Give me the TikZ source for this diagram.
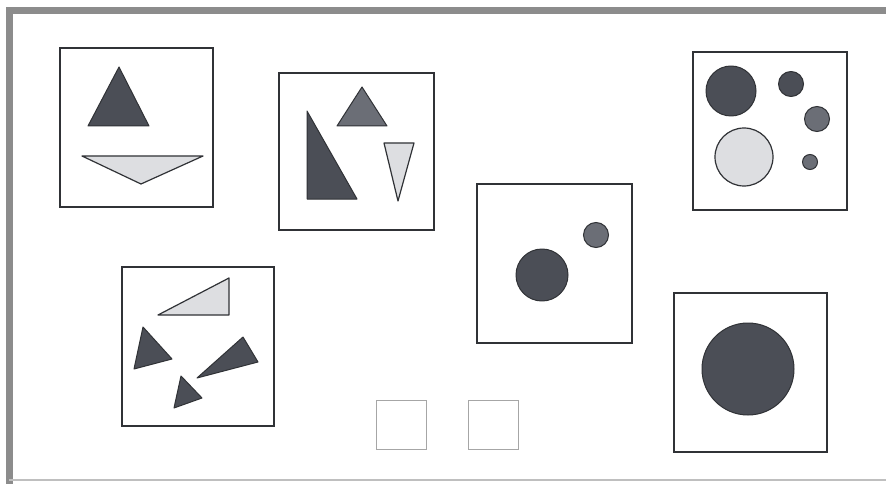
\documentclass[tikz,border=0pt]{standalone}
\definecolor{darkfill}{HTML}{4B4E56}
\definecolor{midfill}{HTML}{6B6E76}
\definecolor{lightfill}{HTML}{DDDEE1}
\definecolor{edge}{HTML}{303236}
\definecolor{framegray}{HTML}{8C8C8C}
\tikzset{
  panel/.style={draw=edge, line width=1.1pt, fill=white},
  darkshape/.style={draw=edge, line width=1pt, fill=darkfill, line join=round},
  midshape/.style={draw=edge, line width=1pt, fill=midfill},
  lightshape/.style={draw=edge, line width=1.2pt, fill=lightfill, line join=round},
  answerbox/.style={draw=gray!70, line width=1pt}
}
\begin{document}
\begin{tikzpicture}[x=1pt,y=-1pt]
\useasboundingbox (0,0) rectangle (886,484);
\fill[white] (0,0) rectangle (886,484);
% outer frame
\draw[framegray, line width=7pt] (9,490) -- (9,11) -- (890,11);
\draw[gray!50, line width=1.2pt] (9,480) -- (890,480);

% panel 1
\draw[panel] (60,48) rectangle (213,207);
\draw[darkshape] (119,67) -- (88,126) -- (149,126) -- cycle;
\draw[lightshape] (82,156) -- (203,156) -- (141,184) -- cycle;

% panel 2
\draw[panel] (279,73) rectangle (434,230);
\draw[midshape, line join=round] (362,87) -- (337,126) -- (387,126) -- cycle;
\draw[darkshape] (307,111) -- (307,199) -- (357,199) -- cycle;
\draw[lightshape] (384,143) -- (414,143) -- (398,201) -- cycle;

% panel 3
\draw[panel] (122,267) rectangle (274,426);
\draw[lightshape] (158,315) -- (229,278) -- (229,315) -- cycle;
\draw[darkshape] (143,327) -- (134,369) -- (172,359) -- cycle;
\draw[darkshape] (243,337) -- (258,362) -- (197,378) -- cycle;
\draw[darkshape] (181,376) -- (174,408) -- (202,398) -- cycle;

% panel 4
\draw[panel] (477,184) rectangle (632,343);
\draw[darkshape] (542,275) circle (26);
\draw[midshape] (596,235) circle (12.5);

% panel 5
\draw[panel] (693,52) rectangle (847,210);
\draw[darkshape] (731,91) circle (25);
\draw[lightshape] (744,157) circle (29);
\draw[darkshape] (791,84) circle (12.5);
\draw[midshape] (817,119) circle (12.5);
\draw[midshape] (810,162) circle (7.5);

% panel 6
\draw[panel] (674,293) rectangle (827,452);
\draw[darkshape] (748,369) circle (46);

% answer boxes
\draw[answerbox] (376,400) rectangle (426,449);
\draw[answerbox] (468,400) rectangle (518,449);
\end{tikzpicture}
\end{document}
